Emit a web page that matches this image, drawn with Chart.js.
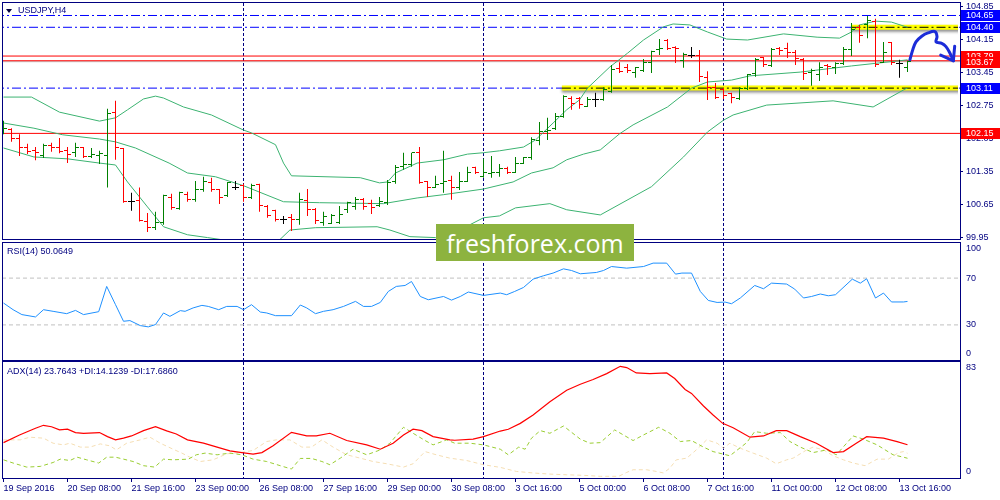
<!DOCTYPE html>
<html lang="en">
<head>
<meta charset="UTF-8">
<title>USDJPY,H4</title>
<script src="https://cdn.jsdelivr.net/npm/chart.js"></script>
<style>
  html, body { margin: 0; padding: 0; background: #fff; }
  #chart { position: relative; width: 1000px; height: 500px; overflow: hidden; background: #fff; font-family: "Liberation Sans", Arial, sans-serif; }
  #chart canvas { position: absolute; left: 0; }
  .pane-title { position: absolute; left: 7px; font-size: 9px; line-height: 11px; color: #000080; white-space: nowrap; }
  .marker { position: absolute; left: 6px; top: 9px; width: 0; height: 0; border-left: 3.5px solid transparent; border-right: 3.5px solid transparent; border-top: 4px solid #000040; }
  .logo { position: absolute; left: 436px; top: 224px; width: 198px; height: 37px; background: #8db33f; color: #fff; font: 25px "Open Sans", sans-serif; display: flex; align-items: center; justify-content: center; }
</style>
</head>
<body>
<div id="chart">
  <canvas id="priceCanvas" width="1000" height="242" style="top:0"></canvas>
  <canvas id="rsiCanvas" width="1000" height="122" style="top:240px"></canvas>
  <canvas id="adxCanvas" width="1000" height="140" style="top:360px"></canvas>
  <div class="marker"></div>
  <div class="pane-title" style="left:18px; top:5px">USDJPY,H4</div>
  <div class="pane-title" style="top:246px">RSI(14) 50.0649</div>
  <div class="pane-title" style="top:366px">ADX(14) 23.7643 +DI:14.1239 -DI:17.6860</div>
  <div class="logo">freshforex.com</div>
</div>

<script>
// ---- values ----
const timeLabels = ['19 Sep 2016', '20 Sep 08:00', '21 Sep 16:00', '23 Sep 00:00', '26 Sep 08:00',
  '27 Sep 16:00', '29 Sep 00:00', '30 Sep 08:00', '3 Oct 16:00', '5 Oct 00:00', '6 Oct 08:00',
  '7 Oct 16:00', '11 Oct 00:00', '12 Oct 08:00', '13 Oct 16:00'];
const priceTicks = [104.85, 104.15, 103.45, 102.75, 102.05, 101.35, 100.65, 99.95];

// H4 bars, 19 Sep 00:00 .. 13 Oct 20:00
const open = [102.20, 102.24, 102.05, 101.84, 101.78, 101.69, 101.90, 101.85, 101.78, 101.74,
  101.84, 101.65, 101.69, 101.69, 102.60, 101.82, 100.70, 100.72, 100.28, 100.15,
  100.25, 100.78, 100.55, 100.85, 100.74, 100.97, 101.10, 100.95, 100.83, 101.01,
  101.04, 100.78, 101.06, 100.59, 100.51, 100.32, 100.36, 100.32, 100.72, 100.53,
  100.25, 100.23, 100.25, 100.53, 100.59, 100.74, 100.66, 100.63, 100.68, 101.12,
  101.44, 101.48, 101.74, 101.12, 101.01, 101.08, 101.16, 101.01, 101.14, 101.42,
  101.23, 101.29, 101.31, 101.40, 101.31, 101.52, 101.63, 101.99, 102.18, 102.26,
  102.50, 102.90, 102.90, 102.71, 102.86, 102.86, 103.03, 103.52, 103.54, 103.45,
  103.49, 103.66, 103.92, 104.11, 103.98, 103.69, 103.81, 103.81, 103.33, 103.13,
  103.07, 102.99, 102.88, 103.11, 103.41, 103.75, 103.60, 103.94, 103.94, 103.86,
  103.71, 103.45, 103.39, 103.58, 103.54, 103.64, 103.92, 104.40, 104.45, 104.53,
  103.66, 104.07, 103.64, 103.54];
const high = [102.42, 102.26, 102.13, 101.93, 101.86, 101.93, 101.95, 102.05, 101.86, 101.95,
  101.86, 101.84, 101.78, 102.67, 102.84, 101.84, 100.89, 101.00, 100.46, 100.49,
  100.85, 100.87, 100.91, 100.91, 101.14, 101.23, 101.21, 100.97, 101.12, 101.14,
  101.08, 101.08, 101.08, 100.63, 100.53, 100.40, 100.44, 100.89, 100.97, 100.57,
  100.49, 100.44, 100.61, 100.70, 100.80, 100.78, 100.74, 100.80, 101.16, 101.48,
  101.74, 101.74, 101.86, 101.14, 101.25, 101.78, 101.25, 101.33, 101.44, 101.44,
  101.61, 101.67, 101.50, 101.44, 101.65, 101.65, 102.07, 102.39, 102.48, 102.58,
  102.96, 102.94, 102.92, 102.92, 103.01, 103.13, 103.60, 103.66, 103.62, 103.56,
  103.73, 103.90, 104.15, 104.15, 104.00, 103.86, 103.98, 103.92, 103.47, 103.22,
  103.11, 103.01, 103.13, 103.41, 103.75, 103.77, 103.96, 103.98, 104.07, 103.92,
  103.75, 103.52, 103.66, 103.62, 103.66, 103.98, 104.49, 104.45, 104.64, 104.58,
  104.09, 104.09, 103.71, 103.69];
const low = [102.13, 101.97, 101.67, 101.71, 101.58, 101.63, 101.76, 101.73, 101.52, 101.65,
  101.63, 101.63, 101.50, 101.00, 101.59, 100.68, 100.51, 100.28, 100.06, 100.10,
  100.21, 100.53, 100.53, 100.70, 100.70, 100.91, 100.91, 100.65, 100.80, 100.95,
  100.70, 100.76, 100.49, 100.36, 100.28, 100.23, 100.08, 100.21, 100.40, 100.23,
  100.19, 100.23, 100.23, 100.46, 100.53, 100.53, 100.44, 100.59, 100.63, 101.08,
  101.38, 101.44, 101.08, 100.80, 100.99, 100.89, 100.74, 100.95, 101.12, 101.29,
  101.21, 101.21, 101.23, 101.29, 101.31, 101.50, 101.59, 101.90, 102.01, 102.22,
  102.48, 102.65, 102.67, 102.71, 102.71, 102.84, 103.01, 103.43, 103.43, 103.33,
  103.45, 103.43, 103.81, 103.92, 103.64, 103.54, 103.75, 103.24, 102.86, 102.88,
  102.88, 102.79, 102.86, 103.07, 103.35, 103.56, 103.56, 103.81, 103.75, 103.60,
  103.28, 103.16, 103.26, 103.39, 103.41, 103.60, 103.79, 104.07, 104.17, 103.56,
  103.64, 103.60, 103.33, 103.45];
const close = [102.26, 102.05, 101.84, 101.76, 101.75, 101.90, 101.86, 101.77, 101.71, 101.84,
  101.65, 101.71, 101.73, 102.58, 101.84, 100.70, 100.70, 100.30, 100.15, 100.25,
  100.83, 100.57, 100.89, 100.74, 100.97, 101.12, 100.95, 100.78, 101.10, 101.01,
  100.78, 101.04, 100.63, 100.40, 100.32, 100.32, 100.32, 100.74, 100.53, 100.30,
  100.38, 100.40, 100.44, 100.68, 100.74, 100.59, 100.57, 100.70, 101.10, 101.42,
  101.48, 101.74, 101.10, 101.01, 101.06, 101.12, 101.01, 101.12, 101.33, 101.31,
  101.31, 101.31, 101.40, 101.31, 101.52, 101.63, 102.01, 102.18, 102.22, 102.50,
  102.94, 102.79, 102.77, 102.86, 102.86, 103.07, 103.50, 103.47, 103.49, 103.54,
  103.66, 103.88, 103.96, 103.94, 103.94, 103.83, 103.81, 103.35, 103.13, 102.92,
  102.96, 102.92, 103.11, 103.39, 103.71, 103.62, 103.92, 103.90, 103.86, 103.73,
  103.43, 103.49, 103.54, 103.56, 103.64, 103.92, 104.36, 104.22, 104.55, 103.62,
  103.86, 103.66, 103.64, 103.67];

// Bollinger bands, [bar, price]
const bbUpper = [[0, 102.92], [3.5, 102.92], [7, 102.60], [12, 102.41], [14, 102.48], [15.5, 102.65],
  [17.5, 102.88], [19, 102.94], [20, 102.90], [22.5, 102.71], [26, 102.54], [30, 102.22], [31, 102.16],
  [34, 101.91], [35, 101.52], [36, 101.25], [44.6, 101.21], [47, 101.10], [48, 101.12], [49, 101.31],
  [51.7, 101.52], [55, 101.59], [58, 101.71], [60, 101.74], [62, 101.78], [65, 101.86], [66.5, 102.01],
  [68.7, 102.37], [70.4, 102.65], [72, 102.86], [73, 103.11], [75.8, 103.56], [78, 103.85], [80, 104.13],
  [82.5, 104.41], [83.7, 104.47], [85.8, 104.45], [88, 104.30], [90.4, 104.15], [93, 104.13],
  [97.5, 104.26], [101.7, 104.19], [104.5, 104.17], [106, 104.30], [107, 104.45], [109, 104.53],
  [111, 104.51], [113, 104.40]];
const bbMiddle = [[0, 102.37], [3.8, 102.26], [7.4, 102.12], [12, 102.03], [14, 101.97], [16.5, 101.84],
  [20.7, 101.52], [23, 101.31], [26.5, 101.23], [30, 101.04], [35, 100.70], [39.5, 100.68], [47.5, 100.66],
  [51.7, 100.78], [55, 100.85], [60, 100.97], [63.7, 101.12], [66, 101.31], [68.7, 101.42], [70.4, 101.59],
  [72.5, 101.71], [74.6, 101.80], [77, 102.14], [78.7, 102.33], [83, 102.71], [86, 103.11], [88, 103.24],
  [91, 103.28], [93.3, 103.37], [99.6, 103.45], [106, 103.58], [112, 103.69], [113, 103.71]];
const bbLower = [[0, 101.84], [3.8, 101.65], [8, 101.61], [12, 101.52], [14, 101.48], [15.5, 101.12],
  [18, 100.59], [20, 100.17], [23, 100.00], [25.5, 99.94], [27.5, 99.89], [29, 99.80], [32, 99.80],
  [34.5, 99.89], [35.8, 100.10], [39, 100.15], [46.7, 100.17], [48.3, 100.10], [50.8, 99.96], [54, 99.94],
  [57, 100.10], [60, 100.36], [62, 100.40], [64, 100.57], [68.3, 100.66], [70.4, 100.53], [74.6, 100.42],
  [81, 101.02], [85, 101.65], [88, 102.18], [90, 102.43], [91.2, 102.54], [95.4, 102.75], [103.7, 102.84],
  [108.7, 102.71], [112.7, 103.09], [113, 103.11]];

// horizontal levels and marked zones
const blueLevels = [104.65, 104.40, 103.11];
const redLevels = [103.79, 103.69, 102.15];
const bidPrice = 103.67;
const zoneLevels = [104.40, 103.11];
const zoneStarts = [106, 69.8];
const weekStarts = [30, 60, 90];

// hand drawn forecast arrow, [bar, price]
const forecastPath = [[113.3, 103.71], [113.65, 103.92], [114.06, 104.09], [114.78, 104.21], [115.56, 104.28],
  [116.44, 104.31], [116.69, 104.20], [116.56, 104.09], [117.28, 104.06], [117.81, 103.99], [118.31, 103.85],
  [118.73, 103.69]];
const forecastHead = [[117.15, 103.81], [118.73, 103.69], [118.9, 104.00]];

// RSI(14), [bar, value]
const rsi = [[0, 48.7], [1.2, 43.0], [2.3, 38.8], [4, 36.8], [5, 43.0], [6.2, 41.6], [7.9, 39.6], [9, 42.4],
  [10, 38.8], [11.9, 41.3], [12.9, 62.9], [14, 47.3], [15, 33.1], [15.8, 33.7], [17.1, 29.4], [18.1, 28.3],
  [19, 30.3], [20, 40.2], [20.8, 37.3], [22.1, 42.2], [22.7, 41.6], [23.7, 44.5], [24.8, 46.7], [25.6, 45.8],
  [26.9, 43.0], [27.9, 45.8], [29.2, 45.8], [30, 43.0], [31, 47.3], [32.1, 41.0], [32.9, 40.2], [34, 37.9],
  [36, 37.9], [37.1, 47.0], [37.9, 44.5], [39, 39.6], [40, 41.6], [41.2, 43.0], [42.5, 45.8], [44, 50.1],
  [45, 45.8], [46, 45.8], [47.1, 49.2], [48.1, 58.6], [49.1, 62.9], [50.2, 63.7], [51, 67.1], [52.1, 54.3],
  [53.1, 51.5], [55, 54.3], [56, 51.2], [57.1, 54.3], [58.1, 58.1], [60, 55.2], [62.1, 57.2], [62.9, 55.8],
  [63.9, 58.6], [65, 62.0], [66.2, 69.1], [67.5, 72.0], [68.7, 74.3], [70, 77.9], [71, 76.5], [72.1, 73.7],
  [74.1, 74.8], [75, 76.5], [76, 79.9], [77.9, 78.5], [80, 79.9], [81.2, 82.8], [82.9, 82.8], [84, 73.4],
  [84.8, 74.3], [86, 74.3], [87.1, 58.6], [88.1, 50.9], [89.2, 49.2], [90.2, 49.5], [91, 48.1], [92.1, 53.0],
  [93.9, 63.7], [95, 60.9], [96, 65.7], [97.9, 64.9], [98.9, 60.6], [100, 53.0], [101, 54.3], [102.1, 56.4],
  [103.1, 54.9], [104, 55.8], [106.1, 69.1], [107.1, 65.7], [107.9, 69.4], [109, 53.0], [110, 57.2],
  [111, 49.6], [112.5, 49.6], [113, 50.06]];
const rsiLevels = [70, 30];
const rsiTicks = [100, 70, 30, 0];

// ADX(14), +DI, -DI, [bar, value]
const adx = [[0, 25.3], [2, 30.8], [4, 35.6], [5, 37.7], [6, 36.7], [7, 34.4], [8, 34.9], [9, 32.5], [10, 32.0],
  [12, 32.5], [13, 29.6], [14, 27.3], [15, 28.5], [16, 30.1], [17.5, 33.9], [19, 36.7], [20.4, 33.7],
  [21.6, 31.5], [23, 27.3], [25, 24.9], [26.7, 22.1], [28.3, 19.4], [29.8, 18.2], [31.2, 17.1], [32.3, 18.2],
  [33.7, 23.0], [36, 32.7], [37.9, 30.1], [39.1, 30.1], [40.8, 32.0], [42.9, 26.8], [45.4, 23.7], [47.1, 20.6],
  [48.7, 24.9], [50, 30.8], [51.2, 34.9], [52.3, 33.9], [53.7, 29.6], [55.8, 27.3], [56.4, 27.0], [58.7, 27.8],
  [60, 29.6], [62.1, 33.6], [63.1, 34.9], [64.6, 39.1], [66.2, 45.1], [68.3, 54.5], [70.4, 62.8], [72.1, 67.1],
  [73.7, 70.5], [75.4, 74.7], [77.1, 79.9], [77.9, 79.0], [79.1, 75.2], [80.8, 74.7], [82.9, 75.2], [83.9, 71.2],
  [85.2, 63.3], [86, 60.5], [87.5, 51.5], [88.7, 45.1], [89.9, 39.1], [91.2, 36.0], [93.3, 29.2], [95, 30.1],
  [96.6, 33.9], [97.9, 33.9], [99.6, 29.6], [101.6, 24.9], [103.7, 18.2], [105, 18.9], [106.6, 24.9],
  [107.9, 29.6], [110, 28.5], [111.7, 26.0], [113, 23.76]];
const plusDi = [[0, 13.0], [1.2, 10.7], [2.9, 7.8], [4.6, 8.3], [6.2, 11.1], [7.1, 13.5], [8.3, 12.5], [9.2, 14.9],
  [10.4, 13.0], [11.9, 10.7], [12.9, 14.9], [14, 14.9], [15, 13.5], [16.2, 11.8], [17.5, 8.8], [18.9, 7.8],
  [20, 13.5], [21.2, 13.0], [23.1, 13.5], [24.1, 16.6], [25.2, 17.8], [26.7, 16.6], [28.3, 17.8], [29.8, 16.6],
  [31.2, 13.5], [32.9, 11.8], [34.6, 8.8], [36, 6.4], [37.1, 14.0], [38.5, 14.0], [39.8, 11.8], [40.8, 9.5],
  [42.1, 14.2], [43.7, 20.6], [45.4, 16.6], [47.1, 20.1], [48.3, 24.9], [50, 36.3], [51.2, 32.0], [52.7, 26.8],
  [53.7, 23.7], [55.4, 27.3], [56.4, 24.9], [58.3, 24.9], [60, 23.7], [62.1, 20.6], [63.1, 16.6], [64.4, 22.1],
  [65.2, 20.6], [66, 28.5], [67.1, 33.9], [68.3, 32.0], [70, 37.2], [72.1, 27.8], [73.3, 24.9], [74.6, 25.3],
  [76.4, 34.4], [78.7, 26.8], [80, 30.8], [81.9, 36.3], [83.3, 32.0], [84.6, 26.1], [86, 26.8], [87.5, 22.1],
  [88.7, 18.9], [90.8, 15.9], [92.9, 25.3], [93.9, 33.2], [95.4, 32.0], [97.1, 32.5], [98.3, 26.1],
  [99.6, 22.1], [101.2, 18.2], [102.9, 20.1], [104.1, 16.6], [106.2, 30.1], [107.5, 27.8], [109.2, 23.7],
  [111.2, 16.6], [112.5, 14.9], [113, 14.12]];
const minusDi = [[0, 27.3], [2.1, 27.3], [3.3, 29.2], [5, 28.5], [6.2, 24.9], [7.5, 23.7], [8.3, 24.9],
  [9.6, 22.1], [10.8, 22.1], [12.1, 24.4], [13.3, 23.0], [14.1, 20.1], [15.4, 24.9], [17.1, 27.3], [18.3, 29.2],
  [19.6, 24.9], [21.2, 20.6], [22.3, 17.8], [23.3, 14.9], [24.6, 11.8], [26.2, 13.0], [27.9, 17.3], [29.6, 18.2],
  [31.2, 19.7], [32.9, 26.1], [34.1, 27.3], [35.8, 27.3], [37.3, 22.1], [38.5, 22.1], [39.8, 27.3], [41.2, 22.1],
  [42.9, 16.6], [44.6, 14.2], [46.2, 11.8], [47.9, 10.2], [50, 7.8], [51.2, 10.2], [52.7, 18.9], [54.1, 16.6],
  [55.8, 14.2], [57.9, 12.5], [60, 9.5], [62.1, 7.6], [64.1, 4.7], [66.2, 3.6], [68.3, 2.8], [70.4, 2.3],
  [72.5, 1.9], [74.6, 1.2], [76.9, 1.2], [77.9, 4.0], [78.7, 5.9], [80.4, 5.9], [81.6, 4.7], [82.5, 3.6],
  [83.3, 7.1], [84.1, 13.0], [85.4, 14.2], [86.6, 20.1], [87.9, 27.3], [89.2, 24.9], [90, 21.3], [90.8, 24.9],
  [92.1, 21.3], [93.7, 17.8], [95.4, 14.2], [96.6, 10.2], [97.9, 13.0], [98.7, 14.2], [100.4, 20.1],
  [101.2, 22.1], [102.5, 20.1], [103.7, 15.9], [105, 13.0], [106.2, 10.7], [107.7, 8.8], [109.2, 13.5],
  [110.6, 13.5], [111.9, 18.2], [112.5, 18.9], [113, 17.69]];
const adxTicks = [83, 0];

// ---- look ----
const navy = '#000080';
const axisFont = { family: 'Liberation Sans, Arial, sans-serif', size: 9 };
const xMin = -0.0625, xMax = 119.5625;   // 8 px per bar across the 957 px plot
const bullColor = '#008000', bearColor = '#ff0000', dojiColor = '#000000';

const pts = pairs => pairs.map(([x, y]) => ({ x, y }));
const hLine = (p, from) => [{ x: from, y: p }, { x: xMax + 1, y: p }];
const barColor = i => close[i] > open[i] ? bullColor : (close[i] < open[i] ? bearColor : dojiColor);
const bars = open.map((_, i) => i);

function lineSet(data, color, extra) {
  return Object.assign({
    type: 'line', data, borderColor: color, borderWidth: 1,
    pointRadius: 0, fill: false, tension: 0
  }, extra || {});
}

// frame round each pane
const paneFrame = {
  id: 'paneFrame',
  afterDraw(chart) {
    const a = chart.chartArea, ctx = chart.ctx;
    ctx.save();
    ctx.strokeStyle = navy;
    ctx.lineWidth = 1;
    ctx.strokeRect(a.left - 0.5, a.top - 0.5, a.right - a.left + 1, a.bottom - a.top + 1);
    ctx.restore();
  }
};

// canvas shadow under the yellow zone strokes
const zoneShadow = {
  id: 'zoneShadow',
  beforeDatasetDraw(chart, args) {
    if (!chart.data.datasets[args.index].shadow) return;
    const ctx = chart.ctx;
    ctx.save();
    ctx.shadowColor = 'rgba(0,0,0,0.45)';
    ctx.shadowBlur = 3;
    ctx.shadowOffsetY = 2;
  },
  afterDatasetDraw(chart, args) {
    if (chart.data.datasets[args.index].shadow) chart.ctx.restore();
  }
};

// open / close ticks next to each high-low bar
const ohlcTicks = {
  id: 'ohlcTicks',
  afterDatasetsDraw(chart) {
    const idx = chart.data.datasets.findIndex(d => d.ohlc);
    const meta = chart.getDatasetMeta(idx);
    const ys = chart.scales.y, a = chart.chartArea, ctx = chart.ctx;
    ctx.save();
    ctx.beginPath();
    ctx.rect(a.left, a.top, a.right - a.left, a.bottom - a.top);
    ctx.clip();
    meta.data.forEach((el, i) => {
      const col = Math.round(el.x - 0.5);
      ctx.fillStyle = barColor(i);
      ctx.fillRect(col - 3, Math.round(ys.getPixelForValue(open[i]) - 0.5), 3, 1);
      ctx.fillRect(col + 1, Math.round(ys.getPixelForValue(close[i]) - 0.5), 3, 1);
    });
    ctx.restore();
  }
};

// coloured price tags on the right scale
const levelTags = {
  id: 'levelTags',
  afterDraw(chart) {
    const ys = chart.scales.y, a = chart.chartArea, ctx = chart.ctx;
    ctx.save();
    ctx.font = '9px "Liberation Sans", Arial, sans-serif';
    ctx.textBaseline = 'middle';
    const tag = (p, bg) => {
      const y = Math.round(ys.getPixelForValue(p));
      ctx.fillStyle = bg;
      ctx.fillRect(a.right + 1, y - 5, 39, 11);
      ctx.fillStyle = '#ffffff';
      ctx.fillText(p.toFixed(2), a.right + 6, y + 0.5);
    };
    blueLevels.forEach(p => tag(p, '#0000ff'));
    redLevels.slice().sort((p, q) => p - q).forEach(p => tag(p, '#ff0000'));
    tag(bidPrice, '#ff0000');
    ctx.restore();
  }
};

// value labels of the indicator panes, kept inside the pane like the terminal does
const sideLabels = {
  id: 'sideLabels',
  afterDraw(chart, args, opts) {
    if (!opts.values) return;
    const ys = chart.scales.y, a = chart.chartArea, ctx = chart.ctx;
    ctx.save();
    ctx.font = '9px "Liberation Sans", Arial, sans-serif';
    ctx.fillStyle = navy;
    ctx.textBaseline = 'middle';
    opts.values.forEach(v => {
      const y = Math.min(Math.max(ys.getPixelForValue(v), a.top + 6), a.bottom - 6);
      ctx.fillText(String(v), a.right + 6, y);
    });
    ctx.restore();
  }
};

function weekAxis() {
  return {
    type: 'linear', min: xMin, max: xMax, offset: false, position: 'bottom',
    afterBuildTicks: s => { s.ticks = weekStarts.map(v => ({ value: v })); },
    afterFit: s => { s.height = 0; s.paddingLeft = 0; s.paddingRight = 0; },
    ticks: { display: false },
    grid: { color: navy, drawTicks: false, offset: false },
    border: { display: false, dash: [3, 2] }
  };
}

function sideAxis(min, max) {
  return {
    position: 'right', min, max,
    afterFit: s => { s.width = 40; s.paddingTop = 0; s.paddingBottom = 0; },
    ticks: { display: false },
    grid: { display: false },
    border: { display: false }
  };
}

const baseOptions = {
  responsive: false,
  animation: false,
  devicePixelRatio: 1,
  events: [],
  plugins: { legend: { display: false }, tooltip: { enabled: false } }
};

// ---- price pane ----
const priceSets = [];
blueLevels.forEach(p => priceSets.push(lineSet(hLine(p, xMin - 1), '#0000ff', { borderDash: [9, 3, 2, 3], order: 6, clip: 0 })));
redLevels.forEach(p => priceSets.push(lineSet(hLine(p, xMin - 1), '#ff0000', { order: 6, clip: 0 })));
priceSets.push(lineSet(hLine(bidPrice, xMin - 1), '#c0c0c0', { order: 7, clip: 0 }));
zoneLevels.forEach((p, k) => {
  priceSets.push(lineSet(hLine(p, zoneStarts[k]), '#ffff00', { borderWidth: 5, order: 5, shadow: true, clip: { left: 0, top: 0, right: -2, bottom: 0 } }));
  priceSets.push(lineSet(hLine(p, zoneStarts[k]), '#000000', { borderDash: [9, 3, 2, 3], order: 4, clip: { left: 0, top: 0, right: -2, bottom: 0 } }));
});
priceSets.push(lineSet(pts(bbUpper), '#3cb371', { order: 3 }));
priceSets.push(lineSet(pts(bbMiddle), '#3cb371', { order: 3 }));
priceSets.push(lineSet(pts(bbLower), '#3cb371', { order: 3 }));
priceSets.push({
  type: 'bar', ohlc: true, order: 2,
  data: bars.map(i => ({ x: i, y: [low[i], high[i]] })),
  backgroundColor: bars.map(barColor),
  barThickness: 1, grouped: false, borderWidth: 0, inflateAmount: 0
});
priceSets.push(lineSet(pts(forecastPath), '#1c2cd8', { borderWidth: 3, tension: 0.35, order: 1, borderCapStyle: 'round', borderJoinStyle: 'round' }));
priceSets.push(lineSet(pts(forecastHead), '#1c2cd8', { borderWidth: 3, order: 1, borderCapStyle: 'round', borderJoinStyle: 'round' }));

new Chart(document.getElementById('priceCanvas'), {
  type: 'line',
  data: { datasets: priceSets },
  options: Object.assign({}, baseOptions, {
    layout: { padding: { left: 3, right: 0, top: 3, bottom: 3 } },
    scales: {
      x: weekAxis(),
      y: {
        position: 'right', min: 99.91, max: 104.915, beginAtZero: false,
        afterFit: s => { s.width = 40; s.paddingTop = 0; s.paddingBottom = 0; },
        afterBuildTicks: s => { s.ticks = priceTicks.map(v => ({ value: v })); },
        ticks: { color: navy, font: axisFont, padding: 3, autoSkip: false, callback: v => v.toFixed(2) },
        grid: { drawOnChartArea: false, color: navy, tickLength: 3 },
        border: { display: false }
      }
    }
  }),
  plugins: [zoneShadow, ohlcTicks, paneFrame, levelTags]
});

// ---- RSI pane ----
const rsiSets = rsiLevels.map(v => lineSet(hLine(v, xMin - 1), '#c0c0c0', { borderDash: [4, 3], clip: 0, order: 2 }));
rsiSets.push(lineSet(pts(rsi), '#1e90ff', { order: 1 }));

new Chart(document.getElementById('rsiCanvas'), {
  type: 'line',
  data: { datasets: rsiSets },
  options: Object.assign({}, baseOptions, {
    layout: { padding: { left: 3, right: 0, top: 3, bottom: 2 } },
    plugins: Object.assign({}, baseOptions.plugins, { sideLabels: { values: rsiTicks } }),
    scales: { x: weekAxis(), y: sideAxis(0, 100) }
  }),
  plugins: [paneFrame, sideLabels]
});

// ---- ADX pane ----
new Chart(document.getElementById('adxCanvas'), {
  type: 'line',
  data: {
    datasets: [
      lineSet(pts(minusDi), '#f5deb3', { borderDash: [4, 3], order: 3 }),
      lineSet(pts(plusDi), '#9acd32', { borderDash: [4, 3], order: 2 }),
      lineSet(pts(adx), '#ff0000', { borderWidth: 1.2, order: 1 })
    ]
  },
  options: Object.assign({}, baseOptions, {
    layout: { padding: { left: 3, right: 0, top: 2, bottom: 0 } },
    plugins: Object.assign({}, baseOptions.plugins, { sideLabels: { values: adxTicks } }),
    scales: {
      x: {
        type: 'linear', min: xMin, max: xMax, offset: false, position: 'bottom',
        afterBuildTicks: s => { s.ticks = timeLabels.map((_, k) => ({ value: k * 8 })); },
        afterFit: s => { s.height = 22; s.paddingLeft = 0; s.paddingRight = 0; },
        ticks: {
          color: navy, font: axisFont, align: 'start', autoSkip: false,
          maxRotation: 0, minRotation: 0, padding: 1,
          callback: (v, i) => timeLabels[i]
        },
        grid: { drawOnChartArea: false, color: navy, tickLength: 4, offset: false },
        border: { display: false }
      },
      xs: weekAxis(),
      y: sideAxis(0, 83)
    }
  }),
  plugins: [paneFrame, sideLabels]
});
</script>
</body>
</html>
